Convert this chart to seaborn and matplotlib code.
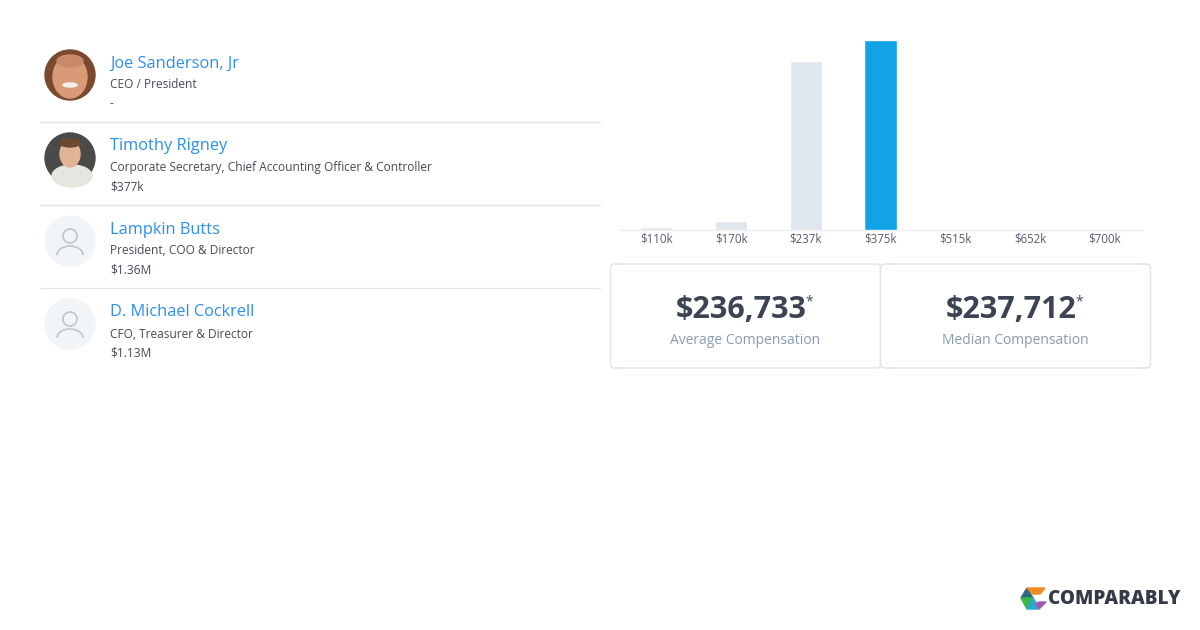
import matplotlib
matplotlib.use("Agg")
import matplotlib.pyplot as plt
from matplotlib.patches import Circle, FancyBboxPatch, Ellipse, Arc, Polygon
import seaborn as sns
import pandas as pd

# ---- data ----
bin_labels = ["$110k", "$170k", "$237k", "$375k", "$515k", "$652k", "$700k"]
bin_heights = [3, 9, 169, 190, 1.5, 1.5, 1.5]
highlight_bin = "$375k"

names = ["Joe Sanderson, Jr", "Timothy Rigney", "Lampkin Butts", "D. Michael Cockrell"]
titles = ["CEO / President",
          "Corporate Secretary, Chief Accounting Officer & Controller",
          "President, COO & Director",
          "CFO, Treasurer & Director"]
comps = ["-", "$377k", "$1.36M", "$1.13M"]
has_photo = [True, True, False, False]

avg_value = "$236,733"
median_value = "$237,712"
stat_labels = ["Average Compensation", "Median Compensation"]

W, H = 1200, 630
sns.set_theme(style="white")
plt.rcParams['font.family'] = ['Open Sans', 'DejaVu Sans']

fig = plt.figure(figsize=(12, 6.3), dpi=100)
fig.patch.set_facecolor("white")

# background canvas in pixel coordinates
bg = fig.add_axes([0, 0, 1, 1])
bg.set_xlim(0, W)
bg.set_ylim(H, 0)
bg.axis("off")

BLUE_NAME = "#2b8ff0"
TXT = "#454b57"
SEP = "#e2e6eb"

row0 = 62
step = 83
for i, (n, t, c, ph) in enumerate(zip(names, titles, comps, has_photo)):
    yn = row0 + i * step
    cy = yn + 13
    if ph:
        if i == 0:
            bg.add_patch(Circle((70, cy), 25, color="#7a4a2e", zorder=2))
            bg.add_patch(Ellipse((70, cy + 2), 34, 42, color="#d99a78", zorder=3))
            bg.add_patch(Ellipse((70, cy - 14), 26, 12, color="#c88a68", zorder=3))
            bg.add_patch(Ellipse((70, cy + 10), 14, 4, color="#f4efe8", zorder=4))
        else:
            bg.add_patch(Circle((70, cy), 25, color="#4a4a48", zorder=2))
            bg.add_patch(Ellipse((72, cy + 18), 40, 22, color="#e6e6e0", zorder=3))
            bg.add_patch(Ellipse((70, cy - 4), 20, 26, color="#e2b496", zorder=3))
            bg.add_patch(Ellipse((70, cy - 15), 20, 8, color="#6b4a30", zorder=4))
    else:
        bg.add_patch(Circle((70, cy), 25, color="#f2f5f8", zorder=2))
        bg.add_patch(Circle((70, cy - 5), 7, fill=False, ec="#c3c8cf", lw=1.3, zorder=3))
        bg.add_patch(Arc((70, cy + 14), 26, 18, theta1=180, theta2=360,
                         ec="#c3c8cf", lw=1.3, zorder=3))
    bg.text(110, yn + 1.5, n, color=BLUE_NAME, fontsize=11.8, va="center", ha="left")
    bg.text(110, yn + 23, t, color=TXT, fontsize=8.6, va="center", ha="left")
    bg.text(110, yn + 42, c, color=TXT, fontsize=8.6, va="center", ha="left")
    if i < len(names) - 1:
        ysep = yn + 60
        bg.plot([40, 600], [ysep, ysep], color=SEP, lw=1, zorder=1)

# stat boxes
boxes = [(610, avg_value, stat_labels[0]), (880, median_value, stat_labels[1])]
for x0, val, lab in boxes:
    bg.add_patch(FancyBboxPatch((x0 + 0.5, 264), 270, 104,
                                boxstyle="round,pad=0,rounding_size=4",
                                fc="white", ec="#dfe4ea", lw=1, zorder=1))
    cx = x0 + 135
    bg.text(cx - 4, 310, val, color="#3c4453", fontsize=22, fontweight="bold",
            ha="center", va="center")
    bg.text(cx + 64, 302, "*", color="#3c4453", fontsize=10, ha="center", va="center")
    bg.text(cx, 340, lab, color="#8a9bb0", fontsize=10, ha="center", va="center")

# logo
bg.add_patch(Polygon([[1021, 598], [1027, 588], [1033, 598]], color="#2e6b7a", zorder=2))
bg.add_patch(Polygon([[1027, 588], [1039, 588], [1045, 588], [1040, 594], [1033, 594]], color="#f08a24", zorder=2))
bg.add_patch(Polygon([[1021, 598], [1033, 598], [1027, 609]], color="#3db54a", zorder=2))
bg.add_patch(Polygon([[1027, 609], [1033, 598], [1036, 603], [1039, 609]], color="#2aa9c8", zorder=2))
bg.add_patch(Polygon([[1039, 609], [1036, 603], [1040, 602], [1046, 602]], color="#a256b0", zorder=2))
bg.text(1048, 599, "COMPARABLY", color="#343b47", fontsize=13.6, fontweight="heavy",
        ha="left", va="center")

# ---- bar chart ----
ax = fig.add_axes([619 / W, 1 - 230 / H, 523 / W, 190 / H])
df = pd.DataFrame({"bin": bin_labels, "h": bin_heights})
palette = {b: ("#12a2e8" if b == highlight_bin else "#e0e6ed") for b in bin_labels}
sns.barplot(data=df, x="bin", y="h", hue="bin", palette=palette, legend=False,
            width=0.43, ax=ax, saturation=1)
ax.set_xlim(-0.5, len(bin_labels) - 0.5)
ax.set_ylim(0, max(bin_heights))
ax.set_xlabel("")
ax.set_ylabel("")
ax.set_yticks([])
ax.tick_params(axis="x", length=0, pad=2, labelsize=8.3, labelcolor="#555d6b")
for s in ["top", "left", "right"]:
    ax.spines[s].set_visible(False)
ax.spines["bottom"].set_color("#eceef2")
ax.spines["bottom"].set_linewidth(1)
ax.spines["bottom"].set_zorder(0.5)
ax.patch.set_alpha(0)

fig.savefig("out.png", dpi=100, facecolor="white")
